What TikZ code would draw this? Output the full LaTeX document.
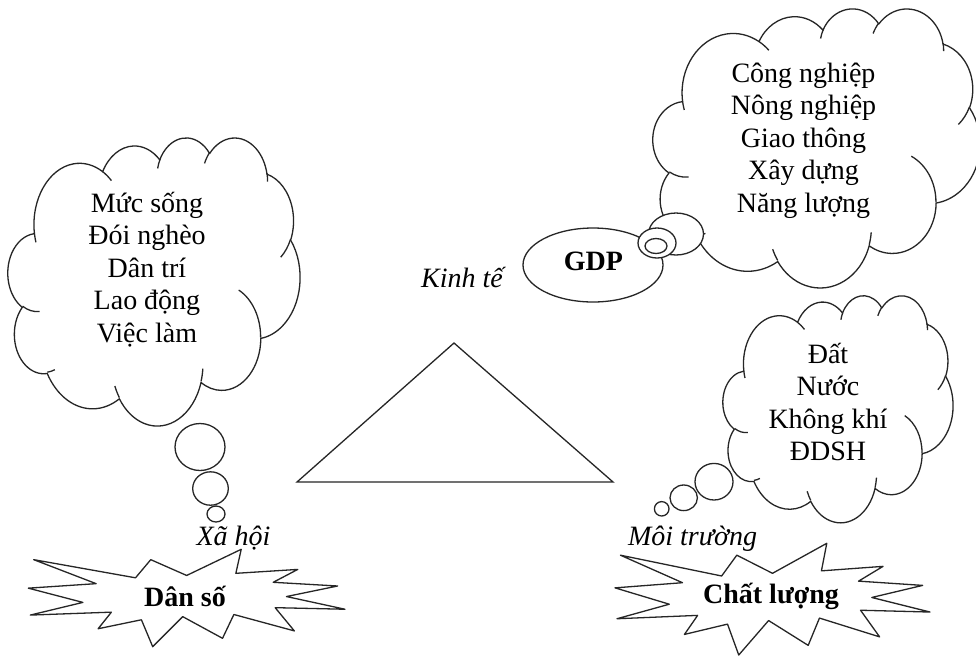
\documentclass[tikz,border=0pt]{standalone}
\usepackage{fontspec}
\setmainfont{Liberation Serif}
\lineskiplimit=-40pt
% Cloud outline in a 432 x 432 box (y pointing down); arcs are given by
% radii, start angle and sweep, the angles being ray angles from the centre.
\newcommand\cloudoutline{%
  \draw[outline] (39,143.70)
    [carc={67.53}{91.90}{-190.4875}{123.7805}]
    [carc={53.33}{72.67}{-144.1024}{89.9452}]
    [carc={43.65}{59.45}{-145.8079}{99.7230}]
    [carc={48.57}{65.95}{-130.9861}{117.2417}]
    [carc={53.33}{72.73}{-78.7089}{109.0269}]
    [carc={67.75}{92.20}{-46.2673}{130.2690}]
    [carc={57.85}{78.67}{0.6250}{114.0333}]
    [carc={67.52}{92.15}{22.4516}{115.1726}]
    [carc={77.20}{105.43}{66.2426}{75.7110}]
    [carc={43.60}{59.18}{-274.9421}{146.7356}]
    [carc={43.45}{59.45}{-246.8285}{152.5189}]
    -- cycle;
  \draw[outline, fill=none]
    (46.93,261.77) [carc={43.45}{59.45}{86.7420}{26.4295}]
    (69.28,348.99) [carc={43.60}{59.18}{73.6105}{11.4475}]
    (164.78,390.90) [carc={67.52}{92.15}{137.6242}{14.0811}]
    (288.27,347.51) [carc={67.52}{92.15}{6.4533}{15.9984}]
    (341.29,229.54) [carc={57.85}{78.67}{-70.2924}{70.9174}]
    (417.98,153.54) [carc={53.33}{72.73}{30.3180}{27.7515}]
    (383.24,54.26) [carc={48.57}{65.95}{-13.7443}{14.8589}]
    (290.78,39.52) [carc={48.57}{65.95}{-149.1815}{18.1954}]
    (221.41,47.20) [carc={43.65}{59.45}{-163.4943}{17.6864}]
    (140.00,51.92) [carc={67.53}{91.90}{-66.7070}{12.3194}]
    (41.27,157.89) [carc={67.53}{91.90}{157.6544}{11.8582}];
}
% Explosion outline in a 216 x 216 box (y pointing down)
\newcommand\burstoutline{%
  \draw[outline] (108,58) -- (145.22,0) -- (141.55,53.25) -- (183.80,44.57)
    -- (167.02,73.15) -- (210.97,81.37) -- (176.07,104.75) -- (216,132.90)
    -- (168.37,129.42) -- (181.45,180.95) -- (140.20,144.57) -- (132.47,197.37)
    -- (105.32,149.35) -- (84.85,216) -- (77.15,156.27) -- (47.62,176.17)
    -- (56.67,139.37) -- (1.35,145.87) -- (37.22,117.75) -- (0,86.15)
    -- (46.27,76.17) -- (3.70,22.95) -- (73.12,63.20) -- (83.52,22.95) -- cycle;
}
\begin{document}
\begin{tikzpicture}[x=1pt,y=-1pt,
  outline/.style={draw=black!85, line width=1.3pt, fill=white, line join=round},
  carc/.style n args={4}{insert path={arc[x radius=#1, y radius=#2,
     start angle={atan2(#1*sin(#3),#2*cos(#3))},
     delta angle={mod(atan2(#1*sin(#3+#4),#2*cos(#3+#4))-atan2(#1*sin(#3),#2*cos(#3))+720,360)}]}},
  body/.style={font=\fontsize{28}{32.5}\selectfont, align=center, inner sep=0pt, anchor=north},
  axislabel/.style={font=\fontsize{28}{32.5}\selectfont\itshape, inner sep=0pt, anchor=base},
  keylabel/.style={font=\fontsize{28}{32.5}\selectfont\bfseries, inner sep=0pt, anchor=base}]

\fill[white] (0,0) rectangle (976,657);
\useasboundingbox (0,0) rectangle (976,657);
\clip (0,0) rectangle (976,657);

% central triangle
\coordinate (apex) at (454,343);
\coordinate (bl) at (297,482);
\coordinate (br) at (613,482);
\draw[outline, fill=none, line join=miter] (apex) -- (bl) -- (br) -- cycle;

% social cloud with its bubbles
\begin{scope}[shift={(8,137)}, x=0.6759pt, y=-0.6667pt]
  \cloudoutline
\end{scope}
\draw[outline] (200,447) ellipse [x radius=25, y radius=23.5];
\draw[outline] (210.5,488.5) ellipse [x radius=17.8, y radius=16.7];
\draw[outline] (216,514) ellipse [x radius=9, y radius=8];

% economy cloud, GDP ellipse and bubbles
\begin{scope}[shift={(653,8)}, x=0.7569pt, y=-0.6458pt]
  \cloudoutline
\end{scope}
\draw[outline] (593,265) ellipse [x radius=70, y radius=37];
\draw[outline] (676,234) ellipse [x radius=27.5, y radius=21];
\draw[outline] (657,243) ellipse [x radius=19, y radius=15];
\draw[outline] (656,246) ellipse [x radius=11, y radius=7.5];

% environment cloud with its bubbles
\begin{scope}[shift={(723,295)}, x=0.5324pt, y=-0.5255pt]
  \cloudoutline
\end{scope}
\draw[outline] (714,481.7) ellipse [x radius=19, y radius=18.3];
\draw[outline] (683.7,497.8) ellipse [x radius=13.7, y radius=12.8];
\draw[outline] (661.7,508.8) ellipse [x radius=7.3, y radius=7.2];

% explosions
\begin{scope}[shift={(28.3,549.3)}, x=1.4662pt, y=-0.4509pt]
  \burstoutline
\end{scope}
\begin{scope}[shift={(615,543.3)}, x=1.4583pt, y=-0.5171pt]
  \burstoutline
\end{scope}

% texts
\node[body] (social) at (147,182) {\rule{0pt}{30pt}Mức sống\\Đói nghèo\\Dân trí\\Lao động\\Việc làm};
\node[body] (economy) at (803.5,52) {\rule{0pt}{30pt}Công nghiệp\\Nông nghiệp\\Giao thông\\Xây dựng\\Năng lượng};
\node[body] (environment) at (828,333) {\rule{0pt}{30pt}Đất\\Nước\\Không khí\\ĐDSH};

\node[axislabel] (kinhte) at (462,287) {Kinh tế};
\node[axislabel] (xahoi) at (233.5,545) {Xã hội};
\node[axislabel] (moitruong) at (692.5,545) {Môi trường};

\node[keylabel] (gdp) at (593.5,270) {GDP};
\node[keylabel] (danso) at (185,606) {Dân số};
\node[keylabel] (chatluong) at (771,603) {Chất lượng};
\end{tikzpicture}
\end{document}
